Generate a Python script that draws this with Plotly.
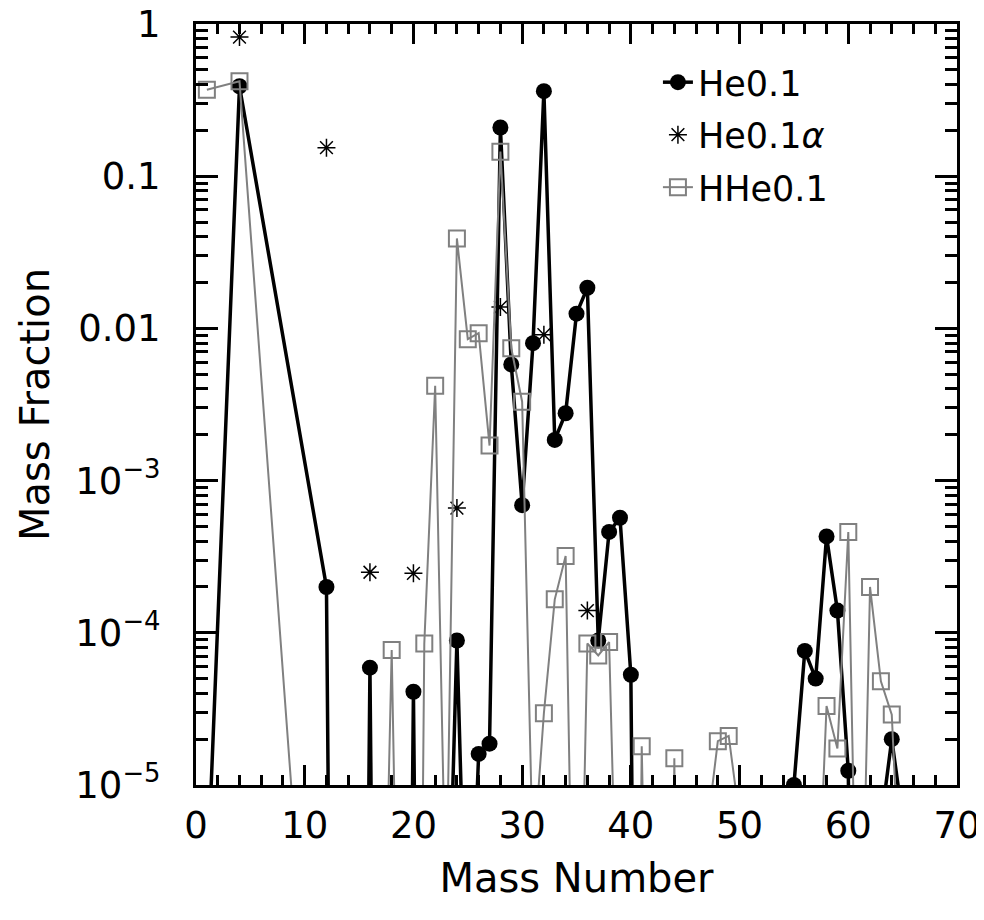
import plotly.graph_objects as go

# He0.1 (filled circles, black line); sub-1e-5 values fall below the axis
mass_he = [1, 4, 12, 13, 15, 16, 17, 19, 20, 21, 23, 24, 25, 26, 27, 28, 29, 30,
           31, 32, 33, 34, 35, 36, 37, 38, 39, 40, 41, 54, 55, 56, 57, 58, 59,
           60, 61, 63, 64, 65]
frac_he = [2e-6, 0.39, 2.0e-4, 1e-12, 1e-12, 5.9e-5, 1e-12, 1e-12, 4.1e-5, 1e-12,
           2.5e-7, 8.9e-5, 2.5e-7, 1.6e-5, 1.87e-5, 0.209, 5.8e-3, 6.9e-4,
           8.0e-3, 0.362, 1.85e-3, 2.77e-3, 1.25e-2, 1.85e-2, 8.9e-5, 4.6e-4,
           5.7e-4, 5.3e-5, 1e-12, 1e-12, 1.0e-5, 7.6e-5, 5.0e-5, 4.3e-4, 1.4e-4,
           1.24e-5, 1e-12, 5.6e-6, 2.0e-5, 6e-6]

# He0.1alpha (asterisks only)
mass_alpha = [4, 12, 16, 20, 24, 28, 32, 36]
frac_alpha = [0.82, 0.154, 2.5e-4, 2.46e-4, 6.6e-4, 1.38e-2, 9.1e-3, 1.4e-4]

# HHe0.1 (open squares, grey line)
mass_hhe = [1, 4, 12, 17, 18, 19, 20, 21, 22, 23, 24, 25, 26, 27, 28, 29, 30, 31,
            32, 33, 34, 35, 36, 37, 38, 39, 40, 41, 42, 43, 44, 45, 47, 48, 49,
            50, 57, 58, 59, 60, 61, 62, 63, 64, 65]
frac_hhe = [0.37, 0.42, 7e-9, 5e-8, 7.7e-5, 1e-12, 1e-12, 8.5e-5, 4.2e-3, 1.3e-6,
            3.9e-2, 8.5e-3, 9.3e-3, 1.7e-3, 0.145, 7.4e-3, 3.3e-3, 3e-6, 2.96e-5,
            1.66e-4, 3.2e-4, 3e-8, 8.5e-5, 7.1e-5, 8.7e-5, 1.6e-7, 1e-12, 1.8e-5,
            1e-12, 1e-12, 1.5e-5, 1e-12, 5e-6, 1.94e-5, 2.1e-5, 6e-6, 6e-7,
            3.3e-5, 1.74e-5, 4.6e-4, 1e-7, 2.0e-4, 4.8e-5, 2.9e-5, 8.5e-7]

y_ticks = [1e-5, 1e-4, 1e-3, 1e-2, 1e-1, 1]
y_labels = ["10<sup>−5</sup>", "10<sup>−4</sup>", "10<sup>−3</sup>", "0.01", "0.1", "1"]

FONT = "DejaVu Sans"
GREY = "#808080"


def make_fig():
    fig = go.Figure()
    fig.add_trace(go.Scatter(
        x=mass_he, y=frac_he, mode="lines+markers", name="He0.1",
        legendgroup="a",
        line=dict(color="black", width=3.5),
        marker=dict(symbol="circle", size=16, color="black"),
    ))
    fig.add_trace(go.Scatter(
        x=mass_alpha, y=frac_alpha, mode="markers", name="He0.1<i>α</i>",
        legendgroup="b",
        marker=dict(symbol="asterisk-open", size=15, color="black",
                    line=dict(color="black", width=1.5)),
    ))
    fig.add_trace(go.Scatter(
        x=mass_hhe, y=frac_hhe, mode="lines+markers", name="HHe0.1",
        legendgroup="c",
        line=dict(color=GREY, width=2),
        marker=dict(symbol="square-open", size=16, color=GREY,
                    line=dict(color=GREY, width=2)),
    ))

    minor_y = [m * 10.0 ** e for e in range(-5, 0) for m in range(2, 10)]

    fig.update_xaxes(
        range=[0, 70], dtick=10, tick0=0, automargin=False,
        showline=True, linecolor="black", linewidth=3, mirror="allticks",
        ticks="inside", ticklen=20, tickwidth=3, tickcolor="black",
        minor=dict(dtick=2, ticks="inside", ticklen=10, tickwidth=2.5,
                   tickcolor="black"),
        showgrid=False, zeroline=False,
        tickfont=dict(family=FONT, size=37, color="black"),
        ticklabelstandoff=6, ticklabeloverflow="allow",
        title=dict(text="Mass Number", standoff=18,
                   font=dict(family=FONT, size=40, color="black")),
    )
    fig.update_yaxes(
        type="log", range=[-5, 0], automargin=False,
        tickmode="array", tickvals=y_ticks, ticktext=y_labels,
        showline=True, linecolor="black", linewidth=3, mirror="allticks",
        ticks="inside", ticklen=22, tickwidth=3, tickcolor="black",
        minor=dict(tickmode="array", tickvals=minor_y, ticks="inside",
                   ticklen=12, tickwidth=2.5, tickcolor="black"),
        showgrid=False, zeroline=False,
        tickfont=dict(family=FONT, size=37, color="black"),
        ticklabelstandoff=25, ticklabeloverflow="allow",
        title=dict(text="Mass Fraction", standoff=14,
                   font=dict(family=FONT, size=40, color="black")),
    )
    # page body adds an 8px offset, so margins are trimmed to land the frame
    # where the reference has it
    fig.update_layout(
        width=984, height=920,
        margin=dict(l=188, r=35, t=16, b=143, autoexpand=False),
        paper_bgcolor="white", plot_bgcolor="white",
        showlegend=True,
        legend=dict(x=0.607, y=0.962, xanchor="left", yanchor="top",
                    bgcolor="rgba(0,0,0,0)", tracegroupgap=4,
                    font=dict(family=FONT, size=35, color="black")),
    )
    return fig


if __name__ == "__main__":
    fig = make_fig()
    fig.write_html("out.html")
